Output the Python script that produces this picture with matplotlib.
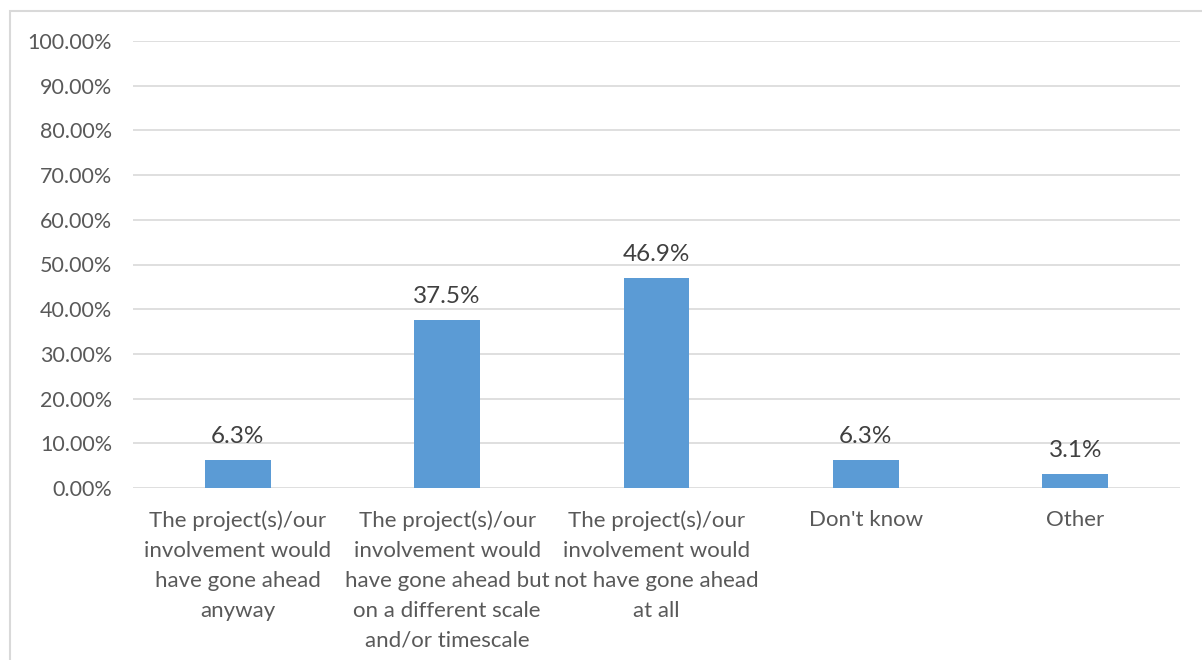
import matplotlib
matplotlib.use("Agg")
import matplotlib.pyplot as plt
from matplotlib.patches import Rectangle
from matplotlib.ticker import FuncFormatter

# Survey answers and their shares (%)
categories = [
    "The project(s)/our\ninvolvement would\nhave gone ahead\nanyway",
    "The project(s)/our\ninvolvement would\nhave gone ahead but\non a different scale\nand/or timescale",
    "The project(s)/our\ninvolvement would\nnot have gone ahead\nat all",
    "Don't know",
    "Other",
]
values = [6.25, 37.5, 46.875, 6.25, 3.125]
value_labels = ["6.3%", "37.5%", "46.9%", "6.3%", "3.1%"]
yticks = [0, 10, 20, 30, 40, 50, 60, 70, 80, 90, 100]

plt.rcParams["font.family"] = ["Lato", "DejaVu Sans"]

fig = plt.figure(figsize=(12.02, 6.6), dpi=100)
ax = fig.add_axes([133 / 1202, 1 - 488 / 660, (1180 - 133) / 1202, (488 - 41) / 660])

# chart frame (only left/top visible in the crop)
fig.patches.append(Rectangle((10 / 1202, -0.05), 1.2, (660 - 11) / 660 + 0.05,
                             transform=fig.transFigure, fill=False,
                             edgecolor="#D9D9D9", linewidth=1.5))

x = range(len(categories))
ax.bar(x, values, width=0.315, color="#5B9BD5", zorder=3)
for xi, v, lab in zip(x, values, value_labels):
    ax.text(xi, v + 3.0, lab, ha="center", va="bottom", fontsize=17.5, color="#404040")

ax.set_xlim(-0.5, len(categories) - 0.5)
ax.set_ylim(0, 100)
ax.set_yticks(yticks)
ax.yaxis.set_major_formatter(FuncFormatter(lambda v, p: f"{v:.2f}%"))
ax.grid(axis="y", color="#D9D9D9", linewidth=1.2, zorder=0)
ax.set_xticks(list(x))
ax.set_xticklabels(categories, fontsize=16, color="#595959", linespacing=1.62)
for lab in ax.get_yticklabels():
    lab.set_fontsize(15.5)
    lab.set_color("#595959")
ax.tick_params(axis="both", length=0)
ax.tick_params(axis="y", pad=15)
ax.tick_params(axis="x", pad=16)
for s in ax.spines.values():
    s.set_visible(False)

fig.savefig("out.png", dpi=100)
